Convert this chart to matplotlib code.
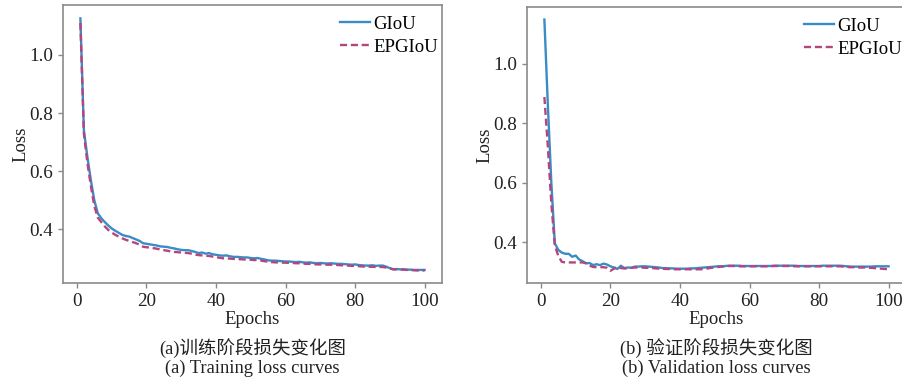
import numpy as np
import matplotlib
matplotlib.use("Agg")
import matplotlib.pyplot as plt

# epochs 1..100
epochs = list(range(1, 101))

train_giou = [
    1.126, 0.742, 0.650, 0.570, 0.500, 0.455, 0.438, 0.425, 0.413, 0.403,
    0.395, 0.388, 0.381, 0.377, 0.375, 0.370, 0.365, 0.360, 0.352, 0.350,
    0.348, 0.346, 0.344, 0.341, 0.340, 0.339, 0.336, 0.334, 0.331, 0.329,
    0.328, 0.328, 0.325, 0.322, 0.318, 0.320, 0.316, 0.318, 0.314, 0.312,
    0.310, 0.309, 0.310, 0.307, 0.305, 0.305, 0.304, 0.303, 0.303, 0.301,
    0.300, 0.301, 0.298, 0.296, 0.293, 0.292, 0.292, 0.291, 0.290, 0.289,
    0.289, 0.288, 0.287, 0.288, 0.286, 0.285, 0.286, 0.284, 0.283, 0.284,
    0.283, 0.282, 0.283, 0.282, 0.281, 0.281, 0.280, 0.279, 0.278, 0.279,
    0.277, 0.276, 0.275, 0.275, 0.276, 0.274, 0.275, 0.275, 0.271, 0.266,
    0.262, 0.263, 0.262, 0.262, 0.261, 0.261, 0.260, 0.260, 0.260, 0.260,
]
train_epgiou = [
    1.110, 0.730, 0.630, 0.550, 0.480, 0.440, 0.425, 0.410, 0.398, 0.389,
    0.381, 0.375, 0.369, 0.364, 0.360, 0.356, 0.352, 0.347, 0.340, 0.338,
    0.337, 0.335, 0.333, 0.330, 0.328, 0.326, 0.324, 0.322, 0.321, 0.320,
    0.319, 0.318, 0.316, 0.313, 0.311, 0.310, 0.309, 0.308, 0.306, 0.304,
    0.302, 0.300, 0.300, 0.299, 0.298, 0.297, 0.297, 0.296, 0.296, 0.295,
    0.294, 0.294, 0.292, 0.290, 0.288, 0.287, 0.286, 0.286, 0.285, 0.285,
    0.284, 0.284, 0.283, 0.283, 0.282, 0.281, 0.281, 0.280, 0.279, 0.279,
    0.279, 0.278, 0.278, 0.277, 0.277, 0.276, 0.276, 0.275, 0.274, 0.274,
    0.273, 0.272, 0.271, 0.271, 0.271, 0.270, 0.270, 0.270, 0.268, 0.265,
    0.262, 0.262, 0.261, 0.261, 0.260, 0.259, 0.259, 0.258, 0.258, 0.258,
]
val_giou = [
    1.148, 0.860, 0.600, 0.397, 0.375, 0.366, 0.362, 0.362, 0.352, 0.356,
    0.343, 0.337, 0.330, 0.331, 0.324, 0.327, 0.324, 0.329, 0.326, 0.320,
    0.316, 0.311, 0.322, 0.314, 0.316, 0.315, 0.319, 0.319, 0.320, 0.320,
    0.319, 0.318, 0.317, 0.316, 0.314, 0.314, 0.313, 0.313, 0.312, 0.312,
    0.312, 0.312, 0.313, 0.313, 0.314, 0.315, 0.316, 0.317, 0.318, 0.319,
    0.320, 0.320, 0.321, 0.322, 0.322, 0.322, 0.322, 0.321, 0.321, 0.321,
    0.321, 0.321, 0.321, 0.321, 0.321, 0.321, 0.322, 0.322, 0.322, 0.322,
    0.322, 0.322, 0.322, 0.321, 0.321, 0.321, 0.321, 0.321, 0.321, 0.321,
    0.322, 0.322, 0.322, 0.322, 0.322, 0.322, 0.321, 0.320, 0.319, 0.319,
    0.319, 0.319, 0.319, 0.319, 0.319, 0.320, 0.320, 0.320, 0.320, 0.320,
]
val_epgiou = [
    0.888, 0.720, 0.530, 0.390, 0.355, 0.335, 0.333, 0.333, 0.333, 0.333,
    0.333, 0.333, 0.330, 0.322, 0.318, 0.317, 0.317, 0.317, 0.315, 0.305,
    0.312, 0.318, 0.314, 0.313, 0.313, 0.315, 0.316, 0.316, 0.316, 0.315,
    0.315, 0.314, 0.313, 0.312, 0.312, 0.311, 0.311, 0.310, 0.310, 0.310,
    0.310, 0.310, 0.310, 0.310, 0.310, 0.310, 0.311, 0.313, 0.315, 0.316,
    0.318, 0.319, 0.320, 0.321, 0.321, 0.321, 0.320, 0.320, 0.320, 0.320,
    0.320, 0.320, 0.320, 0.320, 0.320, 0.320, 0.321, 0.321, 0.321, 0.321,
    0.321, 0.321, 0.320, 0.320, 0.320, 0.320, 0.320, 0.320, 0.320, 0.320,
    0.320, 0.320, 0.320, 0.320, 0.320, 0.320, 0.319, 0.318, 0.317, 0.317,
    0.316, 0.316, 0.316, 0.315, 0.315, 0.314, 0.313, 0.312, 0.311, 0.310,
]

xticks = [0, 20, 40, 60, 80, 100]
yticks = [0.4, 0.6, 0.8, 1.0]
captions_cn = ["(a)训练阶段损失变化图", "(b) 验证阶段损失变化图"]
captions_en = ["(a) Training loss curves", "(b) Validation loss curves"]

plt.rcParams['font.family'] = ['Liberation Serif', 'Noto Sans CJK SC']

blue = '#3a8cc5'
pink = '#b5457f'
gray = '#8a8a8a'

W, H = 902, 381
fig = plt.figure(figsize=(W / 100, H / 100), dpi=100)

# axes boxes in pixels: left, top, width, height
panels = [
    (train_giou, train_epgiou, [63, 5, 379, 278], (0.215, 1.172)),
    (val_giou, val_epgiou, [527, 7, 379, 276], (0.264, 1.19)),
]

for i, (g, e, box, ylim) in enumerate(panels):
    x0, y0, w, h = box
    ax = fig.add_axes([x0 / W, (H - y0 - h) / H, w / W, h / H])
    ax.plot(epochs, g, color=blue, lw=1.7, label='GIoU')
    ax.plot(epochs, e, color=pink, lw=1.7, ls=(0, (3, 1.6)), label='EPGIoU')
    ax.set_xlim(-4, 105)
    ax.set_ylim(*ylim)
    ax.set_xticks(xticks)
    ax.set_yticks(yticks)
    ax.set_yticklabels([f"{v:.1f}" for v in yticks])
    for s in ax.spines.values():
        s.set_color(gray)
        s.set_linewidth(1.2)
    ax.tick_params(colors=gray, labelcolor='#222222', labelsize=13.8,
                   length=3.5, width=1)
    ax.set_xlabel('Epochs', fontsize=13.5, color='#222222', labelpad=1)
    ax.set_ylabel('Loss', fontsize=13.5, color='#222222', labelpad=0)
    ax.legend(loc='upper right', bbox_to_anchor=(1.0, 0.975), frameon=False,
              fontsize=13.5, handlelength=1.6, handletextpad=0.2,
              borderaxespad=0.1, borderpad=0.1, labelspacing=0.3)
    cx = (x0 + w / 2) / W
    fig.text(cx, 1 - 348 / H, captions_cn[i], ha='center', va='center',
             fontsize=13.3, color='#222222')
    fig.text(cx, 1 - 368 / H, captions_en[i], ha='center', va='center',
             fontsize=13.3, color='#222222')

fig.savefig('out.png', dpi=100)
